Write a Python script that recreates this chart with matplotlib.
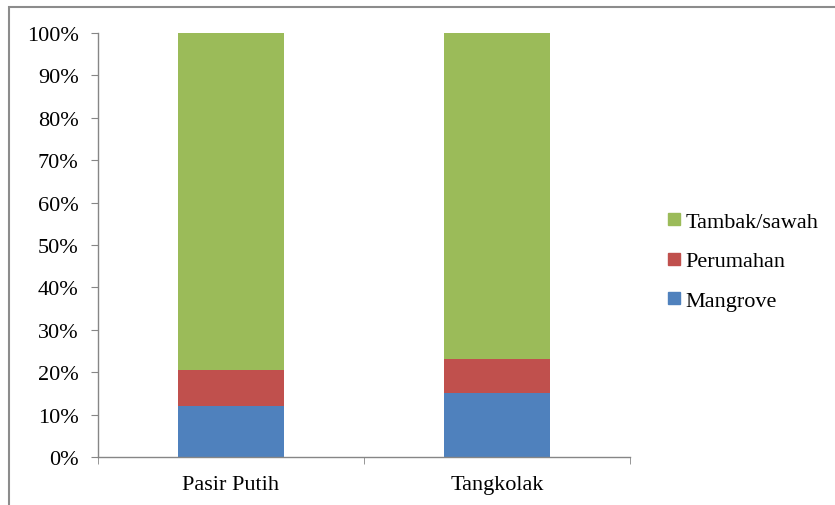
import matplotlib
matplotlib.use("Agg")
import matplotlib.pyplot as plt
from matplotlib.patches import Rectangle
from matplotlib.lines import Line2D

categories = ["Pasir Putih", "Tangkolak"]
mangrove = [12.0, 15.0]
perumahan = [8.5, 8.0]
tambak_sawah = [79.5, 77.0]
y_ticks = [0, 10, 20, 30, 40, 50, 60, 70, 80, 90, 100]

colors = {"Mangrove": "#4F81BD", "Perumahan": "#C0504D", "Tambak/sawah": "#9BBB59"}
axis_color = "#868686"

plt.rcParams["font.family"] = ["Liberation Serif", "DejaVu Serif"]

fig = plt.figure(figsize=(8.35, 5.06), dpi=100)
ax = fig.add_axes([98 / 835, 1 - 458 / 506, (630 - 98) / 835, (458 - 34) / 506])

x = list(range(len(categories)))
w = 0.4
bottom2 = [a + b for a, b in zip(mangrove, perumahan)]
ax.bar(x, mangrove, width=w, color=colors["Mangrove"], label="Mangrove")
ax.bar(x, perumahan, width=w, bottom=mangrove, color=colors["Perumahan"], label="Perumahan")
ax.bar(x, tambak_sawah, width=w, bottom=bottom2, color=colors["Tambak/sawah"], label="Tambak/sawah")

ax.set_xlim(-0.5, len(categories) - 0.5)
ax.set_ylim(0, 100)
ax.set_yticks(y_ticks)
ax.set_yticklabels([f"{t}%" for t in y_ticks])
ax.set_xticks(x)
ax.set_xticklabels(categories)
ax.set_xticks([i - 0.5 for i in range(len(categories) + 1)], minor=True)

for s in ["top", "right"]:
    ax.spines[s].set_visible(False)
for s in ["left", "bottom"]:
    ax.spines[s].set_color(axis_color)
    ax.spines[s].set_linewidth(1.0)

ax.tick_params(axis="y", direction="out", length=5, color=axis_color, labelsize=16, pad=9)
ax.tick_params(axis="x", which="major", length=0, labelsize=16, pad=13)
ax.tick_params(axis="x", which="minor", direction="out", length=5, color=axis_color)

handles = [Line2D([], [], marker="s", linestyle="none", markersize=9,
                  markerfacecolor=colors[k], markeredgecolor=colors[k])
           for k in ["Tambak/sawah", "Perumahan", "Mangrove"]]
fig.legend(handles, ["Tambak/sawah", "Perumahan", "Mangrove"], loc="center left",
           bbox_to_anchor=(643 / 835, 1 - 262 / 506), frameon=False, fontsize=16,
           handletextpad=0.0, labelspacing=0.85, handlelength=1.0)

# outer chart frame
fig.patches.append(Rectangle((9 / 835, -0.1), 1.2, 1 - 8 / 506 + 0.1,
                             transform=fig.transFigure, fill=False,
                             edgecolor="#8c8c8c", linewidth=1.5))

fig.savefig("out.png", dpi=100)
